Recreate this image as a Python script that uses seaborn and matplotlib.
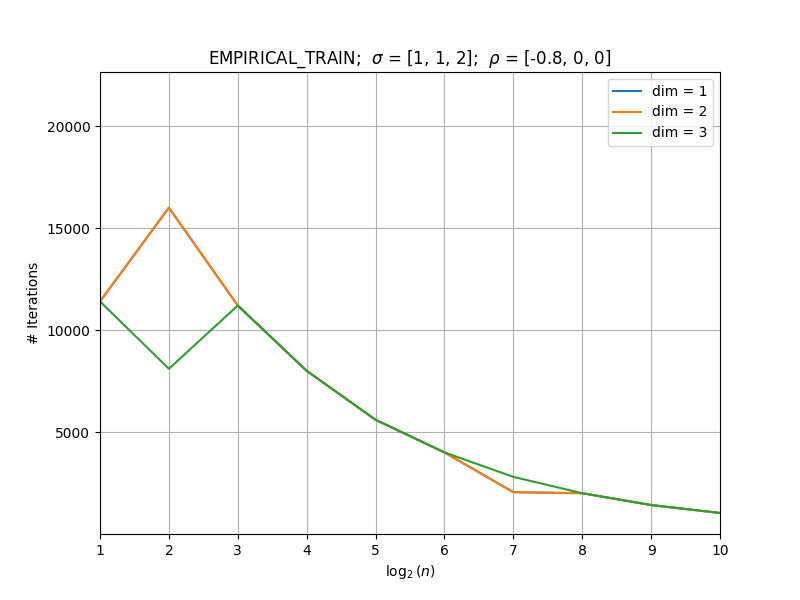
import matplotlib

matplotlib.use("Agg")
import matplotlib.pyplot as plt
import numpy as np
import pandas as pd
import seaborn as sns

LOG2_N = [1, 2, 3, 4, 5, 6, 7, 8, 9, 10]
ITERS_DIM1 = [11400, 16000, 11200, 8000, 5600, 4000, 2050, 2000, 1420, 1030]
ITERS_DIM2 = [11400, 16000, 11200, 8000, 5600, 4000, 2050, 2000, 1420, 1030]
ITERS_DIM3 = [11400, 8100, 11200, 8000, 5600, 4000, 2800, 2000, 1420, 1030]
LABELS = ["dim = 1", "dim = 2", "dim = 3"]


def main() -> None:
    plt.rcParams.update({"font.family": "DejaVu Sans"})
    frames = []
    for label, iters in zip(LABELS, [ITERS_DIM1, ITERS_DIM2, ITERS_DIM3]):
        frames.append(pd.DataFrame({"log2n": LOG2_N, "iters": iters, "dim": label}))
    data = pd.concat(frames, ignore_index=True)

    fig, ax = plt.subplots(figsize=(8, 6), dpi=100)
    sns.lineplot(
        data=data,
        x="log2n",
        y="iters",
        hue="dim",
        hue_order=LABELS,
        palette=["#1f77b4", "#ff7f0e", "#2ca02c"],
        linewidth=1.5,
        ax=ax,
    )
    ax.set_xlim(1, 10)
    ax.set_ylim(0, 22650)
    ax.set_xticks(np.arange(1, 11))
    ax.set_yticks([5000, 10000, 15000, 20000])
    ax.grid(True, color="#b0b0b0", linewidth=0.8)
    ax.set_axisbelow(True)
    ax.set_xlabel(r"$\log_2(n)$")
    ax.set_ylabel("# Iterations")
    ax.set_title(r"EMPIRICAL_TRAIN;  $\sigma$ = [1, 1, 2];  $\rho$ = [-0.8, 0, 0]")
    ax.legend(loc="upper right", title=None)
    fig.savefig("out.png", dpi=100)


if __name__ == "__main__":
    main()
